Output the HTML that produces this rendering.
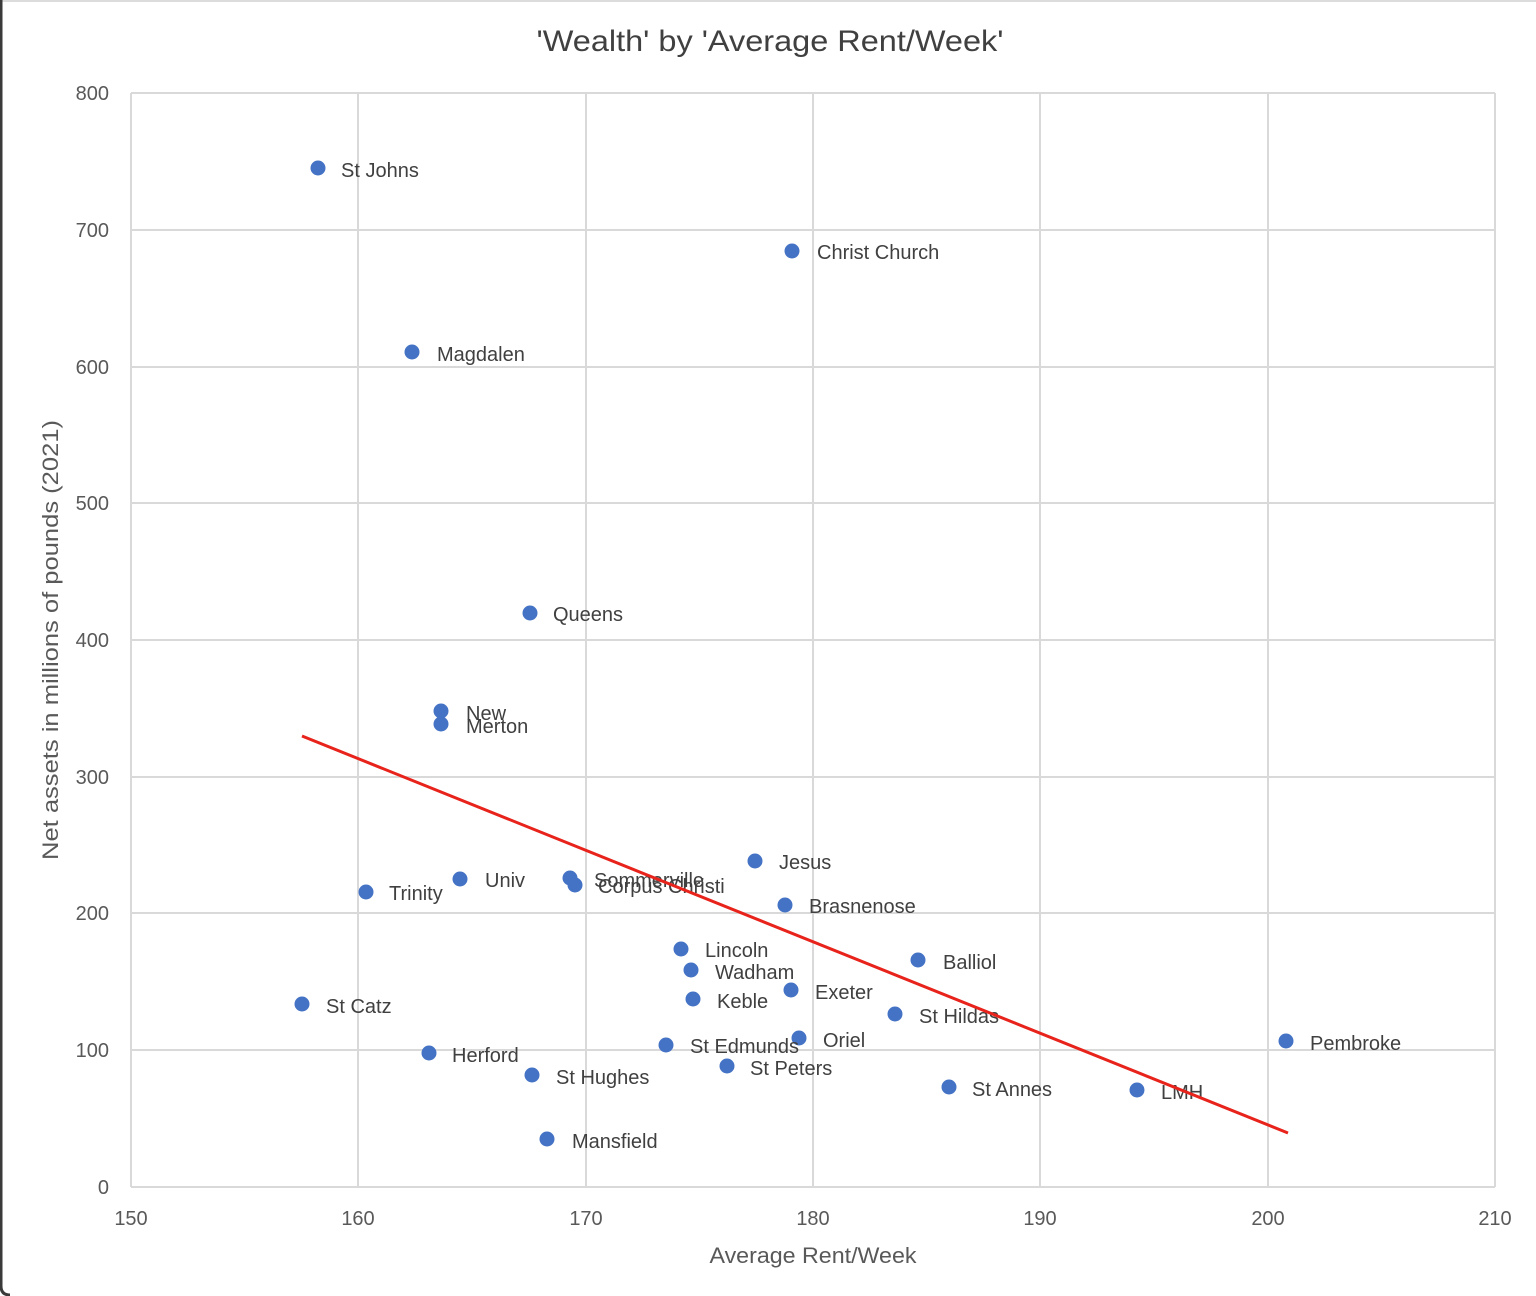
<!DOCTYPE html>
<html><head><meta charset="utf-8"><style>
html,body{margin:0;padding:0;background:#fff;}
svg{display:block;}
text{font-family:"Liberation Sans",Arial,sans-serif;}
</style></head><body>
<svg width="1536" height="1296" viewBox="0 0 1536 1296" xmlns="http://www.w3.org/2000/svg">
<rect x="0" y="0" width="1536" height="1296" fill="#fff"/>
<line x1="0" y1="1" x2="1536" y2="1" stroke="#dcdcdc" stroke-width="2"/>
<path d="M1,0 L1,1286 Q1,1295 10,1295" fill="none" stroke="#3a3a3a" stroke-width="3"/>
<g stroke="#d9d9d9" stroke-width="2" fill="none">
<line x1="131" y1="93" x2="1495" y2="93"/>
<line x1="131" y1="230" x2="1495" y2="230"/>
<line x1="131" y1="367" x2="1495" y2="367"/>
<line x1="131" y1="503" x2="1495" y2="503"/>
<line x1="131" y1="640" x2="1495" y2="640"/>
<line x1="131" y1="777" x2="1495" y2="777"/>
<line x1="131" y1="913" x2="1495" y2="913"/>
<line x1="131" y1="1050" x2="1495" y2="1050"/>
<line x1="131" y1="1187" x2="1495" y2="1187"/>
<line x1="131" y1="93" x2="131" y2="1187"/>
<line x1="358" y1="93" x2="358" y2="1187"/>
<line x1="586" y1="93" x2="586" y2="1187"/>
<line x1="813" y1="93" x2="813" y2="1187"/>
<line x1="1040" y1="93" x2="1040" y2="1187"/>
<line x1="1268" y1="93" x2="1268" y2="1187"/>
<line x1="1495" y1="93" x2="1495" y2="1187"/>
</g>
<text x="770" y="51" font-size="30" fill="#404040" text-anchor="middle" textLength="467" lengthAdjust="spacingAndGlyphs">'Wealth' by 'Average Rent/Week'</text>
<g font-size="20" fill="#595959" text-anchor="end">
<text x="109" y="100">800</text>
<text x="109" y="237">700</text>
<text x="109" y="374">600</text>
<text x="109" y="510">500</text>
<text x="109" y="647">400</text>
<text x="109" y="784">300</text>
<text x="109" y="920">200</text>
<text x="109" y="1057">100</text>
<text x="109" y="1194">0</text>
</g>
<g font-size="20" fill="#595959" text-anchor="middle">
<text x="131" y="1225">150</text>
<text x="358" y="1225">160</text>
<text x="586" y="1225">170</text>
<text x="813" y="1225">180</text>
<text x="1040" y="1225">190</text>
<text x="1268" y="1225">200</text>
<text x="1495" y="1225">210</text>
</g>
<text x="813" y="1263" font-size="22" fill="#595959" text-anchor="middle" textLength="207" lengthAdjust="spacingAndGlyphs">Average Rent/Week</text>
<text transform="translate(58,640) rotate(-90)" font-size="22" fill="#595959" text-anchor="middle" textLength="440" lengthAdjust="spacingAndGlyphs">Net assets  in millions of pounds (2021)</text>
<g fill="#4472C4">
<circle cx="318" cy="168" r="7.5"/>
<circle cx="792" cy="251" r="7.5"/>
<circle cx="412" cy="352" r="7.5"/>
<circle cx="530" cy="613" r="7.5"/>
<circle cx="441" cy="711" r="7.5"/>
<circle cx="441" cy="724" r="7.5"/>
<circle cx="755" cy="861" r="7.5"/>
<circle cx="366" cy="892" r="7.5"/>
<circle cx="460" cy="879" r="7.5"/>
<circle cx="575" cy="885" r="7.5"/>
<circle cx="570" cy="878" r="7.5"/>
<circle cx="785" cy="905" r="7.5"/>
<circle cx="681" cy="949" r="7.5"/>
<circle cx="691" cy="970" r="7.5"/>
<circle cx="693" cy="999" r="7.5"/>
<circle cx="791" cy="990" r="7.5"/>
<circle cx="918" cy="960" r="7.5"/>
<circle cx="895" cy="1014" r="7.5"/>
<circle cx="302" cy="1004" r="7.5"/>
<circle cx="429" cy="1053" r="7.5"/>
<circle cx="666" cy="1045" r="7.5"/>
<circle cx="799" cy="1038" r="7.5"/>
<circle cx="727" cy="1066" r="7.5"/>
<circle cx="532" cy="1075" r="7.5"/>
<circle cx="949" cy="1087" r="7.5"/>
<circle cx="1137" cy="1090" r="7.5"/>
<circle cx="1286" cy="1041" r="7.5"/>
<circle cx="547" cy="1139" r="7.5"/>
</g>
<g font-size="20" fill="#404040">
<text x="341" y="177">St Johns</text>
<text x="817" y="259">Christ Church</text>
<text x="437" y="361">Magdalen</text>
<text x="553" y="621">Queens</text>
<text x="466" y="720">New</text>
<text x="466" y="733">Merton</text>
<text x="779" y="869">Jesus</text>
<text x="389" y="900">Trinity</text>
<text x="485" y="887">Univ</text>
<text x="598" y="893">Corpus Christi</text>
<text x="594" y="887">Sommerville</text>
<text x="809" y="913">Brasnenose</text>
<text x="705" y="957">Lincoln</text>
<text x="715" y="979">Wadham</text>
<text x="717" y="1008">Keble</text>
<text x="815" y="999">Exeter</text>
<text x="943" y="969">Balliol</text>
<text x="919" y="1023">St Hildas</text>
<text x="326" y="1013">St Catz</text>
<text x="452" y="1062">Herford</text>
<text x="690" y="1053">St Edmunds</text>
<text x="823" y="1047">Oriel</text>
<text x="750" y="1075">St Peters</text>
<text x="556" y="1084">St Hughes</text>
<text x="972" y="1096">St Annes</text>
<text x="1161" y="1099">LMH</text>
<text x="1310" y="1050">Pembroke</text>
<text x="572" y="1148">Mansfield</text>
</g>
<line x1="302" y1="736" x2="1288" y2="1133" stroke="#E8231B" stroke-width="3"/>
</svg>
</body></html>
